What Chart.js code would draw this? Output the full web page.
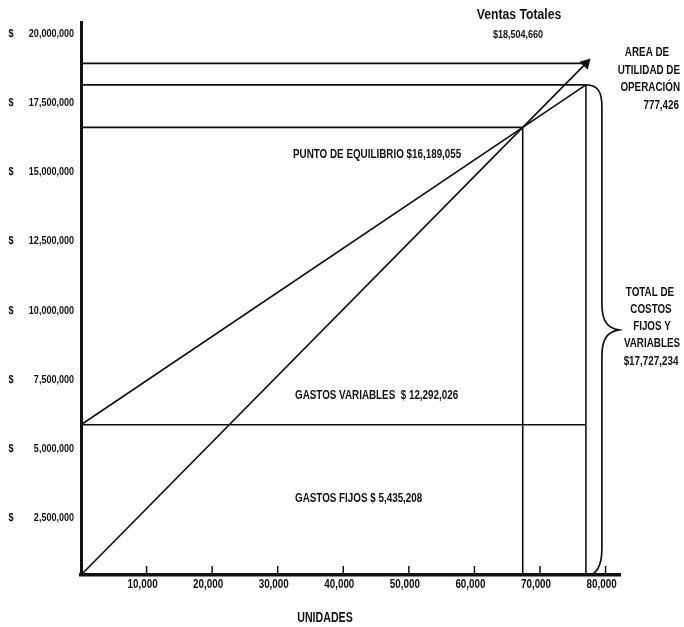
<!DOCTYPE html>
<html>
<head>
<meta charset="utf-8">
<script src="https://cdn.jsdelivr.net/npm/chart.js@4/dist/chart.umd.min.js"></script>
<style>
  html, body { margin: 0; padding: 0; background: #fff; }
  canvas { display: block; }
</style>
</head>
<body>
<canvas id="pe" width="684" height="627"></canvas>
<script>
// Punto de equilibrio: ventas, costos fijos y variables
const unidadesTotales = [0, 77000];
const ventas = [0, 18504660];
const costosTotales = [5435208, 17727234];
const gastosFijos = [5435208, 5435208];
const puntoEquilibrio = [67365, 16189055];   // [unidades, pesos]
const gastosVariables = [12292026];
const utilidadOperacion = [777426];
const xTickValues = [10000, 20000, 30000, 40000, 50000, 60000, 70000, 80000];
const yTickValues = [2500000, 5000000, 7500000, 10000000, 12500000, 15000000, 17500000, 20000000];

const FONT = "'Liberation Sans', Arial, sans-serif";
const INK = '#111';
const fmt = v => v.toLocaleString('en-US');

const seg = (x0, y0, x1, y1) => [{x: x0, y: y0}, {x: x1, y: y1}];
const lineStyle = w => ({ borderColor: INK, borderWidth: w, pointRadius: 0, showLine: true, fill: false, clip: false, tension: 0 });

const uEnd = unidadesTotales[1];
const datasets = [
  Object.assign({ label: 'Ventas totales', data: seg(unidadesTotales[0], ventas[0], uEnd, ventas[1]) }, lineStyle(1.7),
    { pointRadius: [0, 5], pointStyle: 'triangle', rotation: 44, pointBackgroundColor: INK, pointBorderColor: INK }),
  Object.assign({ label: 'Costos totales', data: seg(0, costosTotales[0], uEnd, costosTotales[1]) }, lineStyle(1.7)),
  Object.assign({ label: 'Gastos fijos', data: seg(0, gastosFijos[0], uEnd, gastosFijos[1]) }, lineStyle(1.6)),
  Object.assign({ label: 'Nivel ventas', data: seg(0, ventas[1], uEnd, ventas[1]) }, lineStyle(1.6)),
  Object.assign({ label: 'Nivel costos', data: seg(0, costosTotales[1], uEnd, costosTotales[1]) }, lineStyle(1.6)),
  Object.assign({ label: 'Nivel equilibrio', data: seg(0, puntoEquilibrio[1], puntoEquilibrio[0], puntoEquilibrio[1]) }, lineStyle(1.6)),
  Object.assign({ label: 'Unidades equilibrio', data: seg(puntoEquilibrio[0], 0, puntoEquilibrio[0], puntoEquilibrio[1]) }, lineStyle(1.6)),
  Object.assign({ label: 'Unidades totales', data: seg(uEnd, 0, uEnd, costosTotales[1]) }, lineStyle(1.6))
];

// bold narrow text, squeezed horizontally around its anchor
function txt(ctx, s, x, y, size, align, squeeze) {
  ctx.save();
  ctx.font = 'bold ' + size + 'px ' + FONT;
  ctx.textAlign = align || 'left';
  ctx.textBaseline = 'middle';
  ctx.translate(x, y);
  ctx.scale(squeeze || 0.82, 1);
  ctx.fillText(s, 0, 0);
  ctx.restore();
}

const annotations = {
  id: 'annotations',
  afterDraw(chart) {
    const ctx = chart.ctx;
    const xs = chart.scales.x, ys = chart.scales.y;
    ctx.save();
    ctx.fillStyle = INK;
    ctx.strokeStyle = INK;

    // value axis labels: "$" column plus the amount
    ys.ticks.forEach(t => {
      const py = ys.getPixelForValue(t.value) + 12;
      txt(ctx, '$', 11, py, 11, 'center');
      txt(ctx, fmt(t.value), 74, py, 11, 'right');
    });

    // units axis labels and small inner tick marks
    const yb = ys.getPixelForValue(0);
    ctx.lineWidth = 1.5;
    xs.ticks.forEach(t => {
      const px = xs.getPixelForValue(t.value);
      txt(ctx, fmt(t.value), px - 4, 585, 12, 'center');
      ctx.beginPath(); ctx.moveTo(px, yb); ctx.lineTo(px, yb - 9); ctx.stroke();
    });

    // brace grouping total fixed + variable costs
    const bx = xs.getPixelForValue(uEnd);
    const top = ys.getPixelForValue(costosTotales[1]);
    const bot = yb;
    const mid = (top + bot) / 2;
    const w = 16;
    ctx.lineWidth = 1.7;
    ctx.beginPath();
    ctx.moveTo(bx, top);
    ctx.bezierCurveTo(bx + w * 0.8, top, bx + w, top + 8, bx + w, top + 22);
    ctx.lineTo(bx + w, mid - 26);
    ctx.bezierCurveTo(bx + w, mid - 8, bx + w + 6, mid - 2, bx + w + 17, mid);
    ctx.bezierCurveTo(bx + w + 6, mid + 2, bx + w, mid + 8, bx + w, mid + 26);
    ctx.lineTo(bx + w, bot - 26);
    ctx.bezierCurveTo(bx + w, bot - 8, bx + w * 0.6, bot, bx + 2, bot);
    ctx.stroke();

    // text labels
    txt(ctx, 'Ventas Totales', 519, 15, 14.5, 'center', 0.84);
    txt(ctx, '$' + fmt(ventas[1]), 518, 35, 11, 'center');

    txt(ctx, 'AREA DE', 647, 53, 12, 'center');
    txt(ctx, 'UTILIDAD DE', 680, 71, 12, 'right');
    txt(ctx, 'OPERACIÓN', 680, 88, 12, 'right');
    txt(ctx, fmt(utilidadOperacion[0]), 679, 106, 12, 'right');

    txt(ctx, 'PUNTO DE EQUILIBRIO $' + fmt(puntoEquilibrio[1]), 293, 155, 12, 'left');

    txt(ctx, 'TOTAL DE', 650, 293, 12, 'center');
    txt(ctx, 'COSTOS', 651, 310, 12, 'center');
    txt(ctx, 'FIJOS Y', 652, 327, 12, 'center');
    txt(ctx, 'VARIABLES', 652, 344, 12, 'center');
    txt(ctx, '$' + fmt(costosTotales[1]), 651, 362, 12, 'center');

    txt(ctx, 'GASTOS VARIABLES  $ ' + fmt(gastosVariables[0]), 295, 396, 12, 'left');
    txt(ctx, 'GASTOS FIJOS $ ' + fmt(gastosFijos[0]), 295, 499, 12, 'left');

    txt(ctx, 'UNIDADES', 325, 618, 14, 'center', 0.76);
    ctx.restore();
  }
};

new Chart(document.getElementById('pe'), {
  type: 'scatter',
  data: { datasets },
  options: {
    responsive: false,
    animation: false,
    devicePixelRatio: 1,
    layout: { padding: { top: 22, right: 64, bottom: 0, left: 0 } },
    plugins: { legend: { display: false }, tooltip: { enabled: false } },
    scales: {
      x: {
        type: 'linear', min: 0, max: 82200,
        grid: { display: false, drawTicks: false },
        border: { display: true, width: 3.5, color: INK },
        afterBuildTicks: s => { s.ticks = xTickValues.map(v => ({ value: v })); },
        afterFit: s => { s.height = 52; },
        ticks: { display: false }
      },
      y: {
        type: 'linear', min: 0, max: 20000000,
        grid: { display: false, drawTicks: false },
        border: { display: true, width: 3, color: INK },
        afterBuildTicks: s => { s.ticks = yTickValues.map(v => ({ value: v })); },
        afterFit: s => { s.width = 81; },
        ticks: { display: false }
      }
    }
  },
  plugins: [annotations]
});
</script>
</body>
</html>
